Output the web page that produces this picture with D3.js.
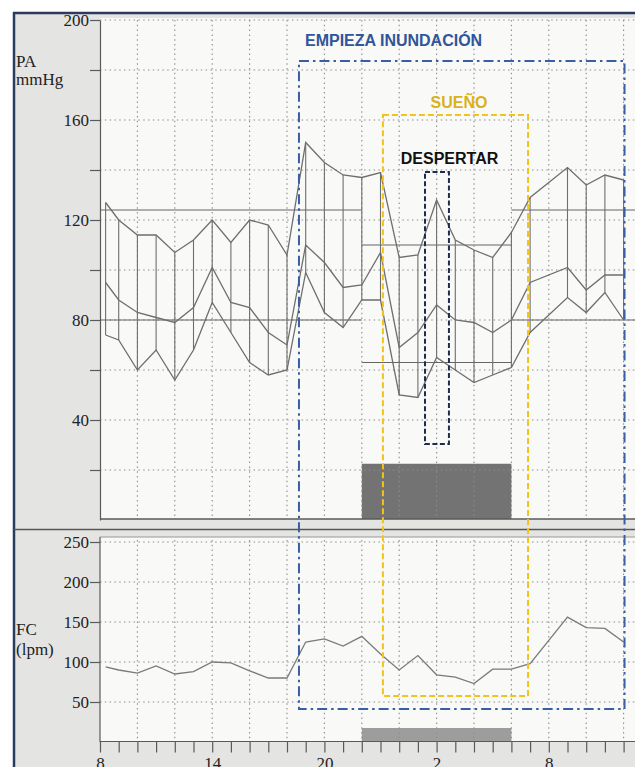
<!DOCTYPE html>
<html lang="es">
<head>
    <meta charset="UTF-8">
    <title>MAPA - PA y FC</title>
    <style>
        body{ margin:0; background:#fff; }
        svg{ display:block; }
        .grid line{ stroke:#8e8e8e; stroke-width:1.1; stroke-dasharray:1.5,3.3; }
        .ax path, .ax line{ stroke:#5a5a5a; stroke-width:1.2; }
        .lbl{ font-family:"Liberation Serif", "Times New Roman", serif; font-size:17px; fill:#222; }
        .note{ font-family:"Liberation Sans", Arial, sans-serif; font-weight:bold; font-size:16px; text-anchor:middle; }
    </style>
</head>
<body>

<script src="https://cdn.jsdelivr.net/npm/d3@7"></script>
<script>

// horas de lectura (continuas: 24 = medianoche, 26 = 2h del dia siguiente)
var paHours = [8.3, 9, 10, 11, 12, 13, 14, 15, 16, 17, 18, 19, 20, 21, 22, 23, 24, 25, 26, 27, 28, 29, 30, 31, 33, 34, 35, 36];
var sistolica  = [127, 120, 114, 114, 107, 112, 120, 111, 120, 118, 106, 151, 143, 138, 137, 139, 105, 106, 128, 112, 108, 105, 115, 129, 141, 134, 138, 136];
var media      = [ 95,  88,  83,  81,  79,  85, 101,  87,  85,  75,  70, 110, 103,  93,  94, 107,  69,  75,  86,  80,  79,  75,  80,  95, 101,  92,  98,  98];
var diastolica = [ 74,  72,  60,  68,  56,  68,  87,  75,  63,  58,  60,  99,  83,  77,  88,  88,  50,  49,  65,  60,  55,  58,  61,  75,  89,  83,  91,  80];

var fcHours = [8.3, 9, 10, 11, 12, 13, 14, 15, 16, 17, 18, 19, 20, 21, 22, 23, 24, 25, 26, 27, 28, 29, 30, 31, 32, 33, 34, 35, 36];
var fc = [94, 90, 86, 95, 85, 88, 100, 99, 89, 80, 80, 125, 129, 120, 132, 110, 90, 108, 84, 81, 73, 91, 91, 98, 127, 156, 143, 142, 125];

// umbrales (sistolica, diastolica) de dia y de noche, periodo de sueno
var umbralDia = [124, 80];
var umbralNoche = [110, 63];
var sueno = [22, 30];

var xTickHours = [8, 14, 20, 26, 32];
var xTickLabels = ["8", "14", "20", "2", "8"];
var paTicks = [200, 160, 120, 80, 40];
var fcTicks = [250, 200, 150, 100, 50];

var W = 635, H = 767;
var SERIF = "'Liberation Serif', 'Times New Roman', serif";

var svg = d3.select("body").append("svg")
        .attr("width", W)
        .attr("height", H);

var x = d3.scaleLinear().domain([8, 32]).range([100, 548.8]);
var xEnd = x.invert(W);
var yPA = d3.scaleLinear().domain([0, 200]).range([520, 20]);
var yFC = d3.scaleLinear().domain([0, 250]).range([742, 542]);

//frame + backgrounds
svg.append("rect").attr("x", 14).attr("y", 13).attr("width", W).attr("height", H).attr("fill", "#e4e4e3");
svg.append("rect").attr("x", 100).attr("y", 18).attr("width", W - 100).attr("height", 501).attr("fill", "#f9f9f8");
svg.append("rect").attr("x", 100).attr("y", 537).attr("width", W - 100).attr("height", 205).attr("fill", "#f9f9f8");
svg.append("line").attr("x1", 14).attr("x2", 14).attr("y1", 12).attr("y2", H)
        .attr("stroke", "#2a3b5e").attr("stroke-width", 2.5);
svg.append("line").attr("x1", 13).attr("x2", W).attr("y1", 13).attr("y2", 13)
        .attr("stroke", "#2a3b5e").attr("stroke-width", 2.5);

//sleep bars
svg.append("rect").attr("x", x(sueno[0])).attr("width", x(sueno[1]) - x(sueno[0]))
        .attr("y", yPA(22.5)).attr("height", yPA(0) - yPA(22.5) - 1).attr("fill", "#737373");
svg.append("rect").attr("x", x(sueno[0])).attr("width", x(sueno[1]) - x(sueno[0]))
        .attr("y", 728).attr("height", 13).attr("fill", "#9d9d9d");

//grids
var vHours = d3.range(10, xEnd, 2);
var gridTop = svg.append("g").attr("class", "grid");
gridTop.selectAll(".h").data(d3.range(20, 201, 20)).enter().append("line")
        .attr("x1", 100).attr("x2", W).attr("y1", function(d){ return yPA(d); }).attr("y2", function(d){ return yPA(d); });
gridTop.selectAll(".v").data(vHours).enter().append("line")
        .attr("x1", function(d){ return x(d); }).attr("x2", function(d){ return x(d); })
        .attr("y1", 20).attr("y2", 518);

var gridBot = svg.append("g").attr("class", "grid");
gridBot.selectAll(".h").data(fcTicks).enter().append("line")
        .attr("x1", 100).attr("x2", W).attr("y1", function(d){ return yFC(d); }).attr("y2", function(d){ return yFC(d); });
gridBot.selectAll(".v").data(vHours).enter().append("line")
        .attr("x1", function(d){ return x(d); }).attr("x2", function(d){ return x(d); })
        .attr("y1", 540).attr("y2", 741);

//panel separators
svg.append("line").attr("x1", 100).attr("x2", W).attr("y1", 519).attr("y2", 519).attr("stroke", "#5a5a5a").attr("stroke-width", 1.3);
svg.append("line").attr("x1", 14).attr("x2", W).attr("y1", 529.5).attr("y2", 529.5).attr("stroke", "#555").attr("stroke-width", 1.6);
svg.append("line").attr("x1", 100).attr("x2", W).attr("y1", 537).attr("y2", 537).attr("stroke", "#999").attr("stroke-width", 1);

//threshold lines
var refs = [
    { h0: 8, h1: sueno[0], v: umbralDia },
    { h0: sueno[0], h1: sueno[1], v: umbralNoche },
    { h0: sueno[1], h1: xEnd, v: umbralDia }
];
refs.forEach(function(r){
    r.v.forEach(function(v){
        svg.append("line").attr("x1", x(r.h0)).attr("x2", x(r.h1))
                .attr("y1", yPA(v)).attr("y2", yPA(v))
                .attr("stroke", "#666").attr("stroke-width", 1.2);
    });
});

//PA: vertical bars + three lines
var pa = paHours.map(function(h, i){ return { h: h, s: sistolica[i], m: media[i], d: diastolica[i] }; });

svg.selectAll(".bar").data(pa).enter().append("line")
        .attr("x1", function(d){ return x(d.h); }).attr("x2", function(d){ return x(d.h); })
        .attr("y1", function(d){ return yPA(d.s); }).attr("y2", function(d){ return yPA(d.d); })
        .attr("stroke", "#6e6e6e").attr("stroke-width", 1.1);

["s", "m", "d"].forEach(function(k){
    svg.append("path").datum(pa)
            .attr("d", d3.line().x(function(d){ return x(d.h); }).y(function(d){ return yPA(d[k]); }))
            .attr("fill", "none").attr("stroke", "#6e6e6e").attr("stroke-width", 1.3);
});

//FC line
var fcData = fcHours.map(function(h, i){ return { h: h, v: fc[i] }; });
svg.append("path").datum(fcData)
        .attr("d", d3.line().x(function(d){ return x(d.h); }).y(function(d){ return yFC(d.v); }))
        .attr("fill", "none").attr("stroke", "#7a7a7a").attr("stroke-width", 1.3);

//axes
function serifTicks(g){
    g.selectAll("text")
            .style("font-family", SERIF)
            .style("font-size", "17px")
            .style("fill", "#222");
}

svg.append("g").attr("class", "ax").attr("transform", "translate(100,0)")
        .call(d3.axisLeft(yPA).tickValues(d3.range(20, 201, 20)).tickSize(10).tickSizeOuter(0).tickPadding(1)
                .tickFormat(function(d){ return paTicks.indexOf(d) >= 0 ? d : ""; }))
        .call(serifTicks);

svg.append("g").attr("class", "ax").attr("transform", "translate(100,0)")
        .call(d3.axisLeft(yFC).tickValues(fcTicks).tickSize(10).tickSizeOuter(0).tickPadding(1))
        .call(serifTicks)
        .select(".domain").attr("d", "M0,537V742");

svg.append("g").attr("class", "ax").attr("transform", "translate(0,741.5)")
        .call(d3.axisBottom(x).tickValues(d3.range(8, Math.floor(xEnd) + 1)).tickSize(11).tickSizeOuter(0).tickPadding(4)
                .tickFormat(function(h){ var i = xTickHours.indexOf(h); return i >= 0 ? xTickLabels[i] : ""; }))
        .call(serifTicks)
        .select(".domain").attr("d", "M100,0H" + W);

//axis titles
svg.append("text").attr("class", "lbl").attr("x", 16).attr("y", 67).text("PA");
svg.append("text").attr("class", "lbl").attr("x", 16).attr("y", 85).text("mmHg");
svg.append("text").attr("class", "lbl").attr("x", 16).attr("y", 635).text("FC");
svg.append("text").attr("class", "lbl").attr("x", 16).attr("y", 655).text("(lpm)");

//annotation boxes
var boxes = [
    { x0: 18.64, x1: 36.05, y0: yPA(183.6), y1: yFC(41.2), color: "#3a5ea6", dash: "10,4,2.5,4" },
    { x0: 23.13, x1: 30.89, y0: yPA(162),   y1: yFC(57.5), color: "#f1c31b", dash: "6,3" },
    { x0: 25.38, x1: 26.66, y0: yPA(139.2), y1: yPA(30.4), color: "#1f2d4d", dash: "5,2.5" }
];
boxes.forEach(function(b){
    svg.append("rect").attr("x", x(b.x0)).attr("y", b.y0)
            .attr("width", x(b.x1) - x(b.x0)).attr("height", b.y1 - b.y0)
            .attr("fill", "none").attr("stroke", b.color).attr("stroke-width", 2)
            .attr("stroke-dasharray", b.dash);
});

var notes = [
    { t: "EMPIEZA INUNDACIÓN", h: 23.7, v: 189.8, color: "#30559a" },
    { t: "SUEÑO", h: 27.2, v: 165, color: "#d9b21a" },
    { t: "DESPERTAR", h: 26.69, v: 142.6, color: "#111" }
];
svg.selectAll(".note").data(notes).enter().append("text")
        .attr("class", "note")
        .attr("x", function(d){ return x(d.h); })
        .attr("y", function(d){ return yPA(d.v); })
        .attr("fill", function(d){ return d.color; })
        .text(function(d){ return d.t; });

</script>

</body>
</html>
